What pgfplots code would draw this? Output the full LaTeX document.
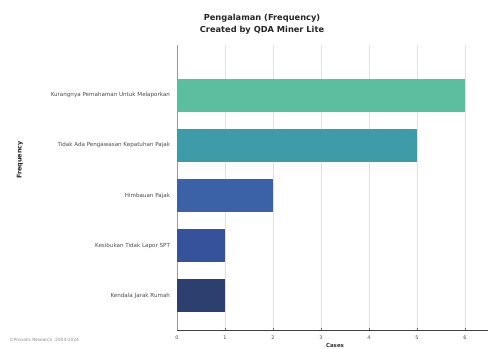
\documentclass[border=0pt]{standalone}
\usepackage{fontspec}
\setmainfont{DejaVu Sans}
\usepackage{pgfplots}
\pgfplotsset{compat=1.18}
\definecolor{c1}{HTML}{5BBF9F}
\definecolor{c2}{HTML}{3E9CA8}
\definecolor{c3}{HTML}{3B62A6}
\definecolor{c4}{HTML}{36529A}
\definecolor{c5}{HTML}{2C3F6E}
\begin{document}
\begin{tikzpicture}[x=1bp,y=1bp]
\path[use as bounding box, fill=white] (0,0) rectangle (488,348);
\begin{axis}[
  at={(177bp,18bp)}, anchor=south west,
  scale only axis, width=311bp, height=285bp,
  xbar, bar width=0.66, bar shift=0pt,
  xmin=0, xmax=6.48, ymin=0.32, ymax=6.0,
  axis x line*=bottom, axis y line*=left,
  x axis line style={black!75, line width=1pt, -},
  y axis line style={black!40, line width=0.4pt, -},
  xtick={0,1,2,3,4,5,6},
  ytick={1,2,3,4,5},
  yticklabels={Kendala Jarak Rumah, Kesibukan Tidak Lapor SPT, Himbauan Pajak, Tidak Ada Pengawasan Kepatuhan Pajak, Kurangnya Pemahaman Untuk Melaporkan},
  xmajorgrids, major grid style={black!12, line width=0.4pt},
  xticklabel style={font=\fontsize{5}{6}\selectfont, text=black!70, yshift=-2bp},
  yticklabel style={font=\fontsize{5.6}{6.5}\selectfont, text=black!70, xshift=-1bp},
  major tick length=2.5bp,
  xtick style={black!60}, ytick style={draw=none},
  /pgf/number format/assume math mode=true,
  clip=false,
]
\addplot[fill=c1, draw=none] coordinates {(6,5)};
\addplot[fill=c2, draw=none] coordinates {(5,4)};
\addplot[fill=c3, draw=none] coordinates {(2,3)};
\addplot[fill=c4, draw=none] coordinates {(1,2)};
\addplot[fill=c5, draw=none] coordinates {(1,1)};
\end{axis}
\node[font=\fontsize{8.3}{12}\selectfont\bfseries, text=black!85, align=center] at (262,324) {Pengalaman (Frequency)\\Created by QDA Miner Lite};
\node[font=\fontsize{6.5}{7}\selectfont\bfseries, rotate=90, text=black!85] at (20,188) {Frequency};
\node[font=\fontsize{5.5}{6}\selectfont\bfseries, text=black!80] at (335,3) {Cases};
\node[font=\fontsize{4.4}{5}\selectfont, text=black!45, anchor=west] at (6,8) {\textcopyright Provalis Research, 2004-2024};
\end{tikzpicture}
\end{document}
